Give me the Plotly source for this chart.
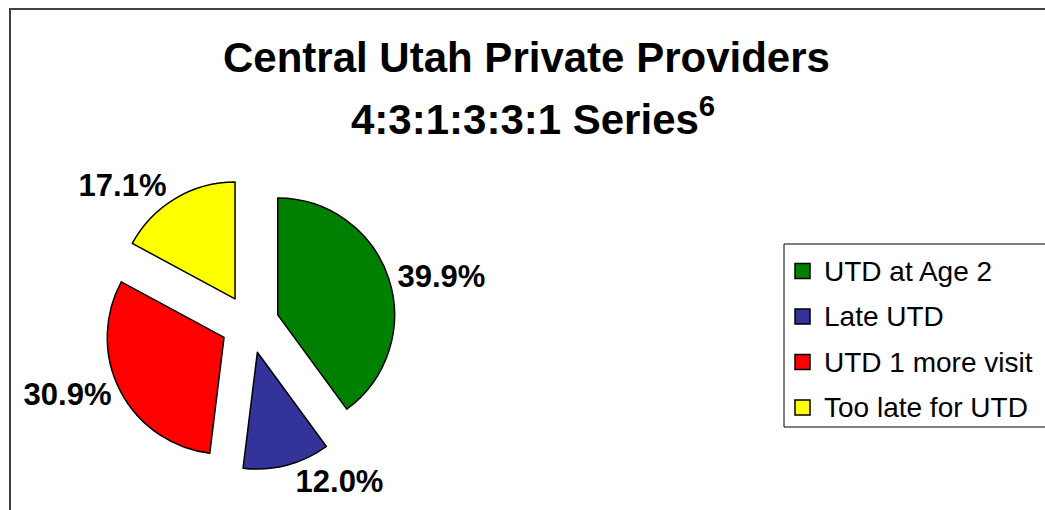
import plotly.graph_objects as go

# ---- data ----
categories = ["UTD at Age 2", "Late UTD", "UTD 1 more visit", "Too late for UTD"]
values = [39.9, 12.0, 30.9, 17.1]
colors = ["#008000", "#333399", "#FF0000", "#FFFF00"]
title_line1 = "Central Utah Private Providers"
title_line2 = "4:3:1:3:3:1 Series<sup>6</sup>"

W, H = 1045, 510
FONT = "Liberation Sans, Arial, sans-serif"

def px_x(x):
    return x / W

def px_y(y):
    return 1 - y / H

fig = go.Figure()
fig.add_trace(go.Pie(
    labels=categories,
    values=values,
    sort=False,
    direction="clockwise",
    rotation=0,
    pull=[0.25] * len(values),
    marker=dict(colors=colors, line=dict(color="#000000", width=1.5)),
    texttemplate="<b>%{value:.1f}%</b>",
    textposition="outside",
    automargin=False,
    textfont=dict(family=FONT, size=31, color="#000000"),
    domain=dict(x=[px_x(104), px_x(396)], y=[px_y(470), px_y(178)]),
    showlegend=False,
    hoverinfo="label+value",
))

shapes = []
annotations = []

# outer chart border (only top and left visible)
shapes.append(dict(type="rect", xref="paper", yref="paper",
                   x0=px_x(10), x1=px_x(1060), y0=px_y(530), y1=px_y(9),
                   line=dict(color="#404040", width=2), fillcolor="rgba(0,0,0,0)"))

# title (two lines, Excel-like spacing)
annotations.append(dict(
    text="<b>" + title_line1 + "</b>",
    xref="paper", yref="paper", x=px_x(526.5), y=px_y(57),
    xanchor="center", yanchor="middle", showarrow=False,
    font=dict(family=FONT, size=42, color="#000000"),
))
annotations.append(dict(
    text="<b>" + title_line2 + "</b>",
    xref="paper", yref="paper", x=px_x(533), y=px_y(116),
    xanchor="center", yanchor="middle", showarrow=False,
    font=dict(family=FONT, size=42, color="#000000"),
))

# legend (manual, to match spacing of reference)
shapes.append(dict(type="rect", xref="paper", yref="paper",
                   x0=px_x(784), x1=px_x(1060), y0=px_y(427), y1=px_y(244),
                   line=dict(color="#000000", width=1), fillcolor="#FFFFFF", layer="below"))
row0, step = 271, 45.5
for i, (lab, col) in enumerate(zip(categories, colors)):
    cy = row0 + i * step
    shapes.append(dict(type="rect", xref="paper", yref="paper",
                       x0=px_x(795), x1=px_x(810), y0=px_y(cy + 7.5), y1=px_y(cy - 7.5),
                       line=dict(color="#000000", width=1.5), fillcolor=col))
    annotations.append(dict(
        text=lab, xref="paper", yref="paper", x=px_x(822), y=px_y(cy),
        xanchor="left", yanchor="middle", showarrow=False,
        font=dict(family=FONT, size=28, color="#000000"),
    ))

fig.update_layout(
    width=W, height=H,
    margin=dict(l=0, r=0, t=0, b=0, pad=0, autoexpand=False),
    paper_bgcolor="#FFFFFF",
    plot_bgcolor="#FFFFFF",
    shapes=shapes,
    annotations=annotations,
    showlegend=False,
)

fig.write_html(
    "out.html",
    config={"displayModeBar": False},
    post_script="document.body.style.margin='0px';document.body.style.overflow='hidden';",
)
